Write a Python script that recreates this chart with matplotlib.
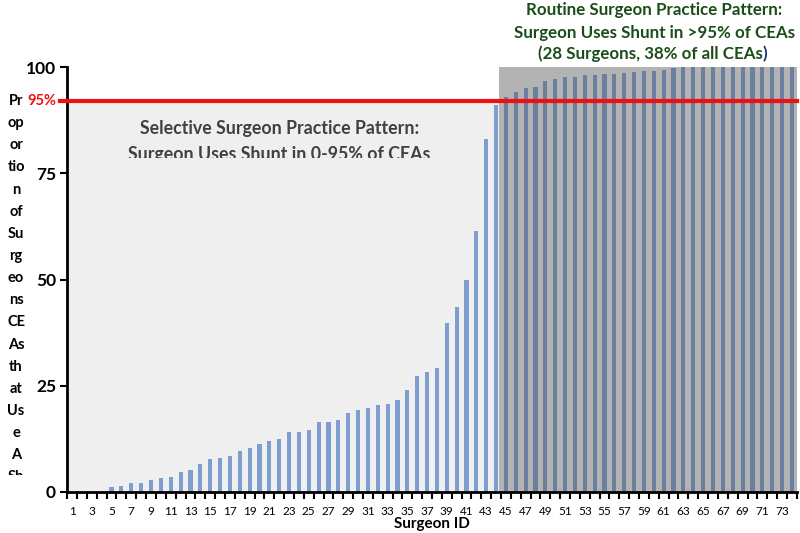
import matplotlib
matplotlib.use("Agg")
import matplotlib.pyplot as plt
from matplotlib.patches import Rectangle
import numpy as np

# proportion of CEAs with shunt, per surgeon (sorted)
surgeon_ids = list(range(1, 75))
shunt_pct = [
    0, 0, 0, 0, 1.1, 1.5, 2.0, 2.0, 2.9, 3.2,
    3.5, 4.7, 5.1, 6.5, 7.8, 8.0, 8.4, 9.6, 10.4, 11.3,
    12.1, 12.4, 14.1, 14.2, 14.6, 16.5, 16.5, 16.9, 18.6, 19.4,
    19.8, 20.4, 20.6, 21.7, 23.9, 27.3, 28.2, 29.2, 39.8, 43.5,
    49.8, 61.4, 83.2, 91.1, 92.9, 94.1, 95.0, 95.3, 96.7, 97.2,
    97.6, 97.8, 98.1, 98.2, 98.4, 98.5, 98.7, 98.8, 99.2, 99.2,
    99.3, 99.7, 100, 100, 100, 100, 100, 100, 100, 100,
    100, 100, 100, 100,
]
y_ticks = [0, 25, 50, 75, 100]
x_labels = [str(i) if i % 2 == 1 else "" for i in surgeon_ids]
cutoff_line = 92  # where the "95%" line sits in the picture
routine_start = 45

font = ["Lato", "DejaVu Sans"]
plt.rcParams["font.family"] = font

fig = plt.figure(figsize=(8, 5.33), dpi=100)
ax = fig.add_axes([0.084, 0.077, 0.912, 0.797])

x = np.array(surgeon_ids)
y = np.array(shunt_pct)

# background zones
ax.add_patch(Rectangle((0.5, 0), routine_start - 1.2, cutoff_line,
                       facecolor="#efefef", edgecolor="none", zorder=0))
ax.add_patch(Rectangle((routine_start - 0.7, 0), 74.5 - (routine_start - 0.7), 100,
                       facecolor="#b3b3b3", edgecolor="none", zorder=0))

colors = ["#7f9ed0" if i < routine_start else "#6b7f9f" for i in surgeon_ids]
ax.bar(x, y, width=0.42, color=colors, zorder=2)

ax.axhline(cutoff_line, xmin=-0.01, color="#ee1111", lw=3, zorder=3, clip_on=False)

ax.set_xlim(0.5, 74.5)
ax.set_ylim(0, 100)

# y axis
ax.set_yticks(y_ticks)
ax.set_yticklabels([str(v) for v in y_ticks], fontsize=12.5, fontweight="bold")
ax.tick_params(axis="y", direction="out", length=5, width=1.5, pad=3)

# x axis: tick marks at category boundaries, labels at centres
ax.set_xticks(np.arange(0.5, 75, 1.0))
ax.set_xticklabels([])
ax.set_xticks(x, minor=True)
ax.set_xticklabels(x_labels, minor=True, fontsize=8.5)
ax.tick_params(axis="x", which="major", direction="out", length=5, width=1.5)
ax.tick_params(axis="x", which="minor", length=0, pad=10)
ax.set_xlabel("Surgeon ID", fontsize=11, fontweight="bold", labelpad=0)

for side in ["top", "right"]:
    ax.spines[side].set_visible(False)
for side in ["left", "bottom"]:
    ax.spines[side].set_linewidth(2)
ax.set_facecolor("white")

# red 95% label
ax.text(-0.035, cutoff_line, "95%", transform=ax.get_yaxis_transform(),
        color="#ee1111", fontsize=10.5, fontweight="bold",
        ha="center", va="center")

# selective zone label, bottom line cut off as in the original
t = ax.text(22.0, 82.5, "Selective Surgeon Practice Pattern:\nSurgeon Uses Shunt in 0-95% of CEAs",
            ha="center", va="center", fontsize=12.8, fontweight="bold",
            color="#404040", linespacing=1.7, zorder=4, clip_on=True)
clip = Rectangle((0.5, 78.6), 60, 30, transform=ax.transData)
t.set_clip_path(clip)

# routine zone label above plot
green = "#1a4d1a"
fig.text(0.818, 0.981, "Routine Surgeon Practice Pattern:", ha="center", va="center",
         fontsize=12.2, fontweight="bold", color=green)
fig.text(0.818, 0.939, "Surgeon Uses Shunt in >95% of CEAs", ha="center", va="center",
         fontsize=12.2, fontweight="bold", color=green)
t3 = fig.text(0.813, 0.899, "(28 Surgeons, 38% of all CEAs", ha="center", va="center",
              fontsize=12.2, fontweight="bold", color=green)
fig.canvas.draw()
ax.annotate(")", xy=(1, 0.5), xycoords=t3, ha="left", va="center",
            fontsize=12.2, fontweight="bold", color="#1f2f7a",
            annotation_clip=False)

# wrapped y label, clipped at the bottom
ylab_lines = ["Pr", "op", "or", "tio", "n", "of", "Su", "rg", "eo", "ns",
              "CE", "As", "th", "at", "Us", "e", "A", "Sh"]
yl = fig.text(0.02, 1 - 94 / 533, "\n".join(ylab_lines), ha="center", va="top",
              fontsize=10.5, fontweight="bold", color="black", linespacing=1.74,
              clip_on=True)
yl_clip = Rectangle((0, 1 - 475 / 533), 0.06, 475 / 533, transform=fig.transFigure)
yl.set_clip_path(yl_clip)

fig.savefig("out.png", dpi=100)
